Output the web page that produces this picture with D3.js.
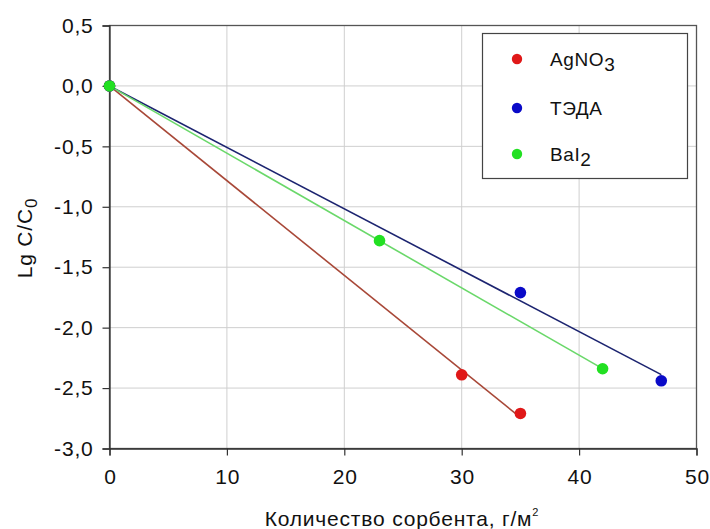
<!DOCTYPE html>
<html>
<head>
<meta charset="utf-8">
<script src="https://cdn.jsdelivr.net/npm/d3@7/dist/d3.min.js"></script>
<style>
  html, body { margin: 0; padding: 0; background: #fff; }
  svg { display: block; font-family: "Liberation Sans", Arial, sans-serif; }
</style>
</head>
<body>
<svg id="chart" width="710" height="529"></svg>
<script>
// Sorbent dose (g/m²) vs. lg(C/C0)
const seriesNames = ["AgNO3", "ТЭДА", "BaI2"];
const agno3X = [0, 30, 35];
const agno3Y = [0, -2.39, -2.71];
const tedaX = [0, 35, 47];
const tedaY = [0, -1.71, -2.44];
const bai2X = [0, 23, 42];
const bai2Y = [0, -1.28, -2.34];
const xTicks = [0, 10, 20, 30, 40, 50];
const yTicks = [0.5, 0.0, -0.5, -1.0, -1.5, -2.0, -2.5, -3.0];

const pointColors = ["#e01818", "#0a0ac8", "#22e022"];
const lineColors = ["#a84838", "#1c2470", "#6ad86a"];

const series = [
  { name: seriesNames[0], xs: agno3X, ys: agno3Y },
  { name: seriesNames[1], xs: tedaX, ys: tedaY },
  { name: seriesNames[2], xs: bai2X, ys: bai2Y }
].map((s, i) => {
  // least-squares line through the origin
  const sxy = d3.sum(s.xs, (x, j) => x * s.ys[j]);
  const sxx = d3.sum(s.xs, x => x * x);
  return { ...s, slope: sxy / sxx, pc: pointColors[i], lc: lineColors[i] };
});

const svg = d3.select("#chart");
const m = { left: 109.5, right: 696.5, top: 25.5, bottom: 448.5 };
const x = d3.scaleLinear().domain([0, 50]).range([m.left, m.right]);
const y = d3.scaleLinear().domain([-3, 0.5]).range([m.bottom, m.top]);

// grid
const grid = svg.append("g").attr("stroke", "#cfcfcf").attr("stroke-width", 1);
grid.selectAll("line.v").data(xTicks.slice(1, -1)).join("line")
  .attr("x1", d => x(d)).attr("x2", d => x(d))
  .attr("y1", m.top).attr("y2", m.bottom);
grid.selectAll("line.h").data(yTicks.slice(1, -1)).join("line")
  .attr("x1", m.left).attr("x2", m.right)
  .attr("y1", d => y(d)).attr("y2", d => y(d));

// frame
svg.append("rect")
  .attr("x", m.left).attr("y", m.top)
  .attr("width", m.right - m.left).attr("height", m.bottom - m.top)
  .attr("fill", "none").attr("stroke", "#555").attr("stroke-width", 1.3);

const fmt = d => d3.format(".1f")(d).replace(".", ",").replace("−", "-");
const LS = "0.8px";

// axes
const xAxis = svg.append("g").attr("transform", `translate(0,${m.bottom})`)
  .call(d3.axisBottom(x).tickValues(xTicks).tickSize(7).tickPadding(9).tickFormat(d3.format("d")));
const yAxis = svg.append("g").attr("transform", `translate(${m.left},0)`)
  .call(d3.axisLeft(y).tickValues(yTicks).tickSize(7).tickPadding(9).tickFormat(fmt));
[xAxis, yAxis].forEach(a => {
  a.select(".domain").attr("stroke", "#333").attr("stroke-width", 1.3);
  a.selectAll(".tick line").attr("stroke", "#333").attr("stroke-width", 1.2);
  a.selectAll(".tick text").attr("fill", "#111")
    .style("font-size", "21px").style("letter-spacing", LS);
});
xAxis.selectAll(".tick text").attr("dy", "0.93em").attr("dx", "0.4");

// fitted lines
svg.append("g").selectAll("line").data(series).join("line")
  .attr("x1", x(0)).attr("y1", y(0))
  .attr("x2", d => x(d3.max(d.xs)))
  .attr("y2", d => y(d.slope * d3.max(d.xs)))
  .attr("stroke", d => d.lc).attr("stroke-width", 1.6);

// points (drawn so BaI2 sits on top at the origin)
series.forEach(s => {
  svg.append("g").selectAll("circle").data(s.xs.map((v, j) => [v, s.ys[j]])).join("circle")
    .attr("cx", d => x(d[0])).attr("cy", d => y(d[1])).attr("r", 5.8)
    .attr("fill", s.pc);
});

// legend
const lg = svg.append("g");
lg.append("rect").attr("x", 482.5).attr("y", 33.5).attr("width", 205).attr("height", 145)
  .attr("fill", "#fff").attr("stroke", "#444").attr("stroke-width", 1.2);
const legendRows = [
  { c: pointColors[0], main: "AgNO", sub: "3", y: 59 },
  { c: pointColors[1], main: "ТЭДА", sub: "", y: 108 },
  { c: pointColors[2], main: "BaI", sub: "2", y: 154 }
];
legendRows.forEach(r => {
  lg.append("circle").attr("cx", 517).attr("cy", r.y).attr("r", 5.2).attr("fill", r.c);
  const t = lg.append("text").attr("x", 550).attr("y", r.y + 6.5)
    .style("font-size", "19px").style("letter-spacing", "0.6px").attr("fill", "#111");
  t.append("tspan").text(r.main);
  if (r.sub) t.append("tspan").attr("dy", 5).style("font-size", "19px").text(r.sub);
});

// axis titles
const yt = svg.append("text")
  .attr("transform", "translate(32,238) rotate(-90)")
  .attr("text-anchor", "middle").style("font-size", "21px")
  .style("letter-spacing", LS).attr("fill", "#111");
yt.append("tspan").text("Lg C/C");
yt.append("tspan").attr("dy", 5).style("font-size", "17px").text("0");

const xt = svg.append("text").attr("x", 402).attr("y", 526)
  .attr("text-anchor", "middle").style("font-size", "21px")
  .style("letter-spacing", LS).attr("fill", "#111");
xt.append("tspan").text("Количество сорбента, г/м");
xt.append("tspan").attr("dy", -10).style("font-size", "11px").text("2");
</script>
</body>
</html>
